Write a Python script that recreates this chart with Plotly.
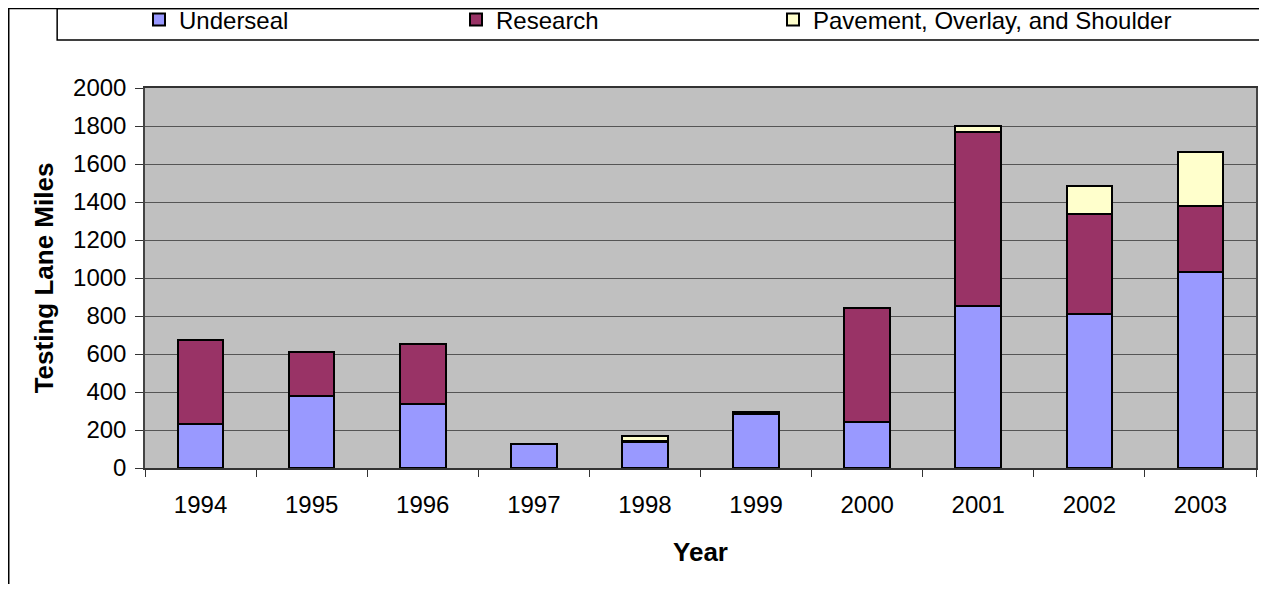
import plotly.graph_objects as go

years = ["1994", "1995", "1996", "1997", "1998", "1999", "2000", "2001", "2002", "2003"]
underseal = [230, 377, 335, 125, 135, 283, 240, 851, 809, 1030]
research = [442, 232, 316, 0, 8, 10, 600, 916, 526, 347]
pavement = [0, 0, 0, 0, 25, 0, 0, 34, 148, 285]

series_names = ["Underseal", "Research", "Pavement, Overlay, and Shoulder"]
series_colors = ["#9999FF", "#993366", "#FFFFCC"]
legend_widths = [272, 272, 420]

# page body has an 8px margin, so the figure is sized to fit the window without scrollbars
OFF = 8
W, H = 1267 - 2 * OFF, 592 - 2 * OFF
ML = 145 - OFF
MT = 88 - OFF
MR = 1
MB = H - (468 - OFF)
PW, PH = W - ML - MR, H - MT - MB


def px(x):
    return (x - OFF - ML) / PW


def py(y):
    return (H - MB - (y - OFF)) / PH


def cx(x):
    return (x - OFF) / W


def cy(y):
    return 1 - (y - OFF) / H


FONT = "Arial, Liberation Sans, sans-serif"

fig = go.Figure()
for name, vals, col, lw in zip(series_names, [underseal, research, pavement], series_colors, legend_widths):
    fig.add_trace(go.Bar(
        x=years, y=vals, name=name, legendwidth=lw,
        marker=dict(color=col, line=dict(color="black", width=2)),
    ))

fig.update_layout(
    width=W, height=H,
    margin=dict(l=ML, r=MR, t=MT, b=MB, pad=0),
    barmode="stack", bargap=0.59,
    paper_bgcolor="white", plot_bgcolor="#C0C0C0",
    font=dict(family=FONT, size=24, color="black"),
    showlegend=True,
    legend=dict(
        orientation="h", xref="container", yref="container",
        x=cx(139), xanchor="left", y=cy(20), yanchor="middle",
        entrywidthmode="pixels",
        bgcolor="rgba(0,0,0,0)", borderwidth=0,
        font=dict(family=FONT, size=24, color="black"),
        traceorder="normal",
    ),
    xaxis=dict(
        type="category", tickson="boundaries", ticks="outside", ticklen=7,
        tickcolor="#333333", showline=True, linecolor="#333333", linewidth=1.5,
        mirror=True, showgrid=False, ticklabelstandoff=14,
        title=dict(text="<b>Year</b>", font=dict(family=FONT, size=26), standoff=26),
    ),
    yaxis=dict(
        range=[0, 2000], dtick=200, ticks="outside", ticklen=8,
        tickcolor="#333333", showline=True, linecolor="#444444", linewidth=1.5,
        mirror=True, showgrid=True, gridcolor="#555555", gridwidth=1,
        zeroline=False, ticklabelstandoff=4,
        title=dict(text="<b>Testing Lane Miles</b>", font=dict(family=FONT, size=26), standoff=12),
    ),
    shapes=[
        dict(type="rect", xref="paper", yref="paper", x0=px(OFF + 0.5), x1=px(1300),
             y0=py(640), y1=py(OFF + 0.5), line=dict(color="black", width=1.5),
             fillcolor="rgba(0,0,0,0)", layer="above"),
        dict(type="rect", xref="paper", yref="paper", x0=px(57), x1=px(1300),
             y0=py(40), y1=py(OFF + 0.5), line=dict(color="black", width=1.5),
             fillcolor="rgba(0,0,0,0)", layer="above"),
    ],
)

fig.write_html("out.html")
